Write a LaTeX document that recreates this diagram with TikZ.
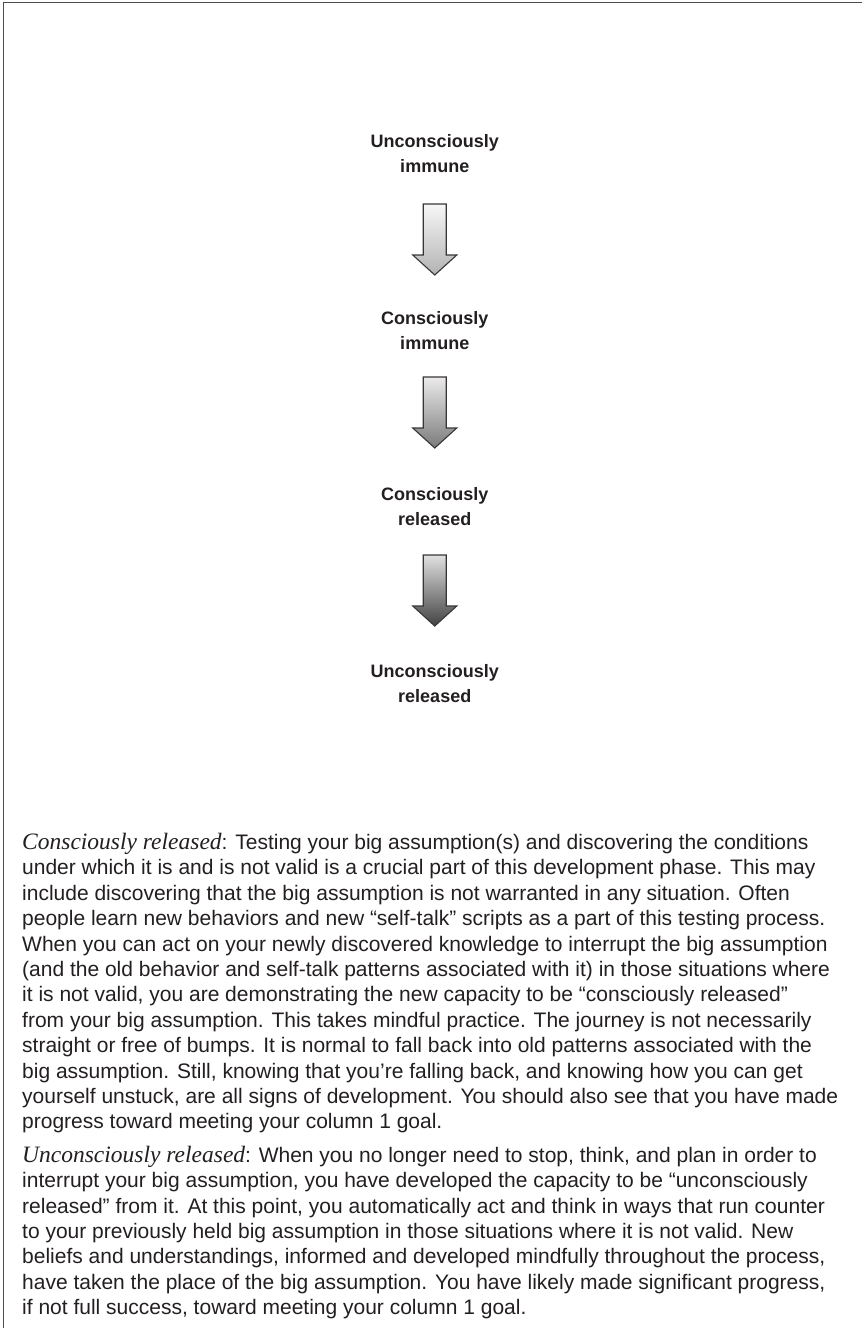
\documentclass[tikz,border=0pt]{standalone}
\usepackage{fontspec}
\setmainfont{Liberation Sans}
\newfontfamily\leadfont{Liberation Serif}
\definecolor{ink}{HTML}{231F20}
\newcommand{\lead}[1]{{\leadfont\itshape\fontsize{23.5}{25.4}\selectfont #1}}

\begin{document}
\begin{tikzpicture}[x=1pt,y=-1pt,
	stage/.style={align=center,inner sep=0pt,anchor=north,text=ink,font=\bfseries\fontsize{18}{25}\selectfont},
	para/.style={align=left,inner sep=0pt,anchor=north west,text=ink,font=\fontsize{21}{25.4}\selectfont},
	blockarrow/.style={draw=ink!90,line width=1.1pt,line join=miter}]
\useasboundingbox (0,0) rectangle (862,1328);
\draw[ink!80,line width=1.5pt] (3.5,1328) -- (3.5,2.5) -- (862,2.5);

\node[stage] (ui) at (434.75,134) {Unconsciously\\immune};
\node[stage] (ci) at (434.75,311) {Consciously\\immune};
\node[stage] (cr) at (434.75,487) {Consciously\\released};
\node[stage] (ur) at (434.75,664) {Unconsciously\\released};

\coordinate (a1) at (434.75,204);
\coordinate (a2) at (434.75,377);
\coordinate (a3) at (434.75,555);
\foreach \a/\t/\b in {a1/3/30, a2/8/52, a3/12/74}
	\shade[blockarrow,top color=black!\t,bottom color=black!\b]
		(\a) ++(-11.5,0) -- ++(23,0) -- ++(0,51) -- ++(10.5,0) -- ++(-22,20)
		-- ++(-22,-20) -- ++(10.5,0) -- cycle;

\node[para] (p1) at (22,833) {\lead{Consciously released}: Testing your big assumption(s) and discovering the conditions\\
under which it is and is not valid is a crucial part of this development phase. This may\\
include discovering that the big assumption is not warranted in any situation. Often\\
people learn new behaviors and new “self-talk” scripts as a part of this testing process.\\
When you can act on your newly discovered knowledge to interrupt the big assumption\\
(and the old behavior and self-talk patterns associated with it) in those situations where\\
it is not valid, you are demonstrating the new capacity to be “consciously released”\\
from your big assumption. This takes mindful practice. The journey is not necessarily\\
straight or free of bumps. It is normal to fall back into old patterns associated with the\\
big assumption. Still, knowing that you’re falling back, and knowing how you can get\\
yourself unstuck, are all signs of development. You should also see that you have made\\
progress toward meeting your column 1 goal.};
\node[para] (p2) at (22,1145.7) {\lead{Unconsciously released}: When you no longer need to stop, think, and plan in order to\\
interrupt your big assumption, you have developed the capacity to be “unconsciously\\
released” from it. At this point, you automatically act and think in ways that run counter\\
to your previously held big assumption in those situations where it is not valid. New\\
beliefs and understandings, informed and developed mindfully throughout the process,\\
have taken the place of the big assumption. You have likely made significant progress,\\
if not full success, toward meeting your column 1 goal.};
\end{tikzpicture}
\end{document}
